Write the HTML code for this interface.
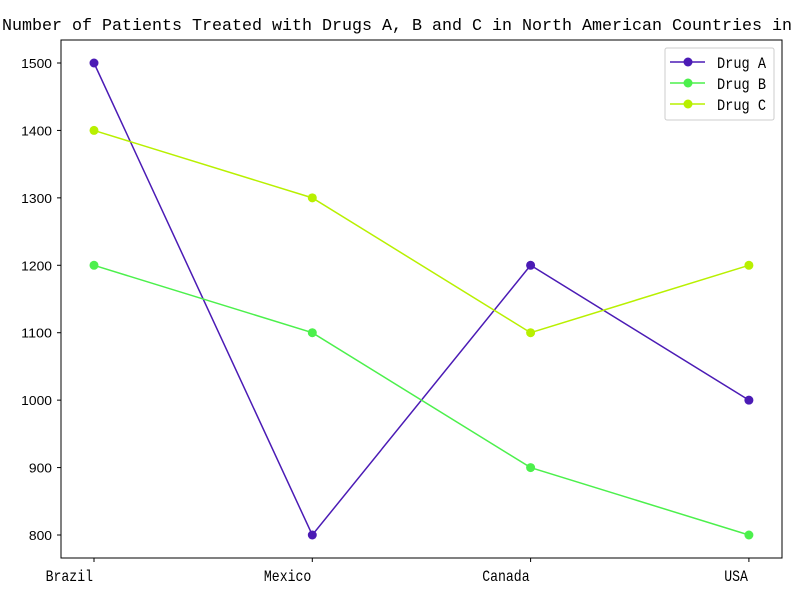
<!DOCTYPE html>
<html><head><meta charset="utf-8"><style>
body{margin:0;background:#fff}
svg text{font-family:"Liberation Mono","Noto Sans CJK SC",monospace;fill:#000}
</style></head><body>
<svg id="chart" width="800" height="600" xmlns="http://www.w3.org/2000/svg">
<rect width="800" height="600" fill="#fff"/>
<text x="2" y="30" font-size="17" textLength="790" lengthAdjust="spacingAndGlyphs">Number of Patients Treated with Drugs A, B and C in North American Countries in</text>
<rect x="61" y="40" width="721" height="518" fill="none" stroke="#000" stroke-width="1"/>
<g id="yaxis"></g>
<g id="xaxis"></g>
<g id="series"></g>
<g>
<rect x="665" y="48" width="109" height="72" fill="#fff" stroke="#ccc" rx="2"/>
<g id="legend"></g>
</g>
</svg>
<script>
const categories = ["Brazil","Mexico","Canada","USA"];
const drugA = [1500,800,1200,1000];
const drugB = [1200,1100,900,800];
const drugC = [1400,1300,1100,1200];
const yTicks = [800,900,1000,1100,1200,1300,1400,1500];
const seriesNames = ["Drug A","Drug B","Drug C"];
const colors = ["#4b1bb5","#4cf04c","#b8f000"];
const NS="http://www.w3.org/2000/svg";
function x(i){return 94+i*218.3;}
function y(v){return 535-(v-800)*472/700;}
function mk(tag,attrs,parent){const e=document.createElementNS(NS,tag);for(const k in attrs)e.setAttribute(k,attrs[k]);parent.appendChild(e);return e;}
const ya=document.getElementById('yaxis'), xa=document.getElementById('xaxis'), sg=document.getElementById('series'), lg=document.getElementById('legend');
yTicks.forEach(v=>{
  const l=mk('line',{x1:57,x2:61,y1:y(v),y2:y(v),stroke:'#000'},ya);
  
  
  const s=String(v);
  const t=mk('text',{x:52,y:y(v)+5,'text-anchor':'end','font-size':'13',textLength:s.length*7.7,lengthAdjust:'spacingAndGlyphs',style:'font-family:"Liberation Sans",sans-serif'},ya);
  t.textContent=s;
  
  
});
categories.forEach((c,i)=>{
  const l=mk('line',{x1:x(i),x2:x(i),y1:558,y2:562,stroke:'#000'},xa);
  
  
  const t=mk('text',{x:x(i)-1,y:581,'text-anchor':'end','font-size':'16',textLength:c.length*7.9,lengthAdjust:'spacingAndGlyphs'},xa);
  t.textContent=c;
  
  
});
[drugA,drugB,drugC].forEach((s,k)=>{
  const p=mk('polyline',{points:s.map((v,i)=>x(i)+','+y(v)).join(' '),fill:'none',stroke:colors[k],'stroke-width':1.5},sg);
  
  
  s.forEach((v,i)=>{
    const c=mk('circle',{cx:x(i),cy:y(v),r:4.5,fill:colors[k]},sg);
    
    
  });
  const ly=62+k*21;
  const ll=mk('line',{x1:670,x2:705,y1:ly,y2:ly,stroke:colors[k],'stroke-width':1.5},lg);
  
  
  const lc=mk('circle',{cx:688,cy:ly,r:4.5,fill:colors[k]},lg);
  
  
  const lt=mk('text',{x:717,y:ly+6,'font-size':'16',textLength:49,lengthAdjust:'spacingAndGlyphs'},lg);
  lt.textContent=seriesNames[k];
  
  
});
</script>
</body></html>
